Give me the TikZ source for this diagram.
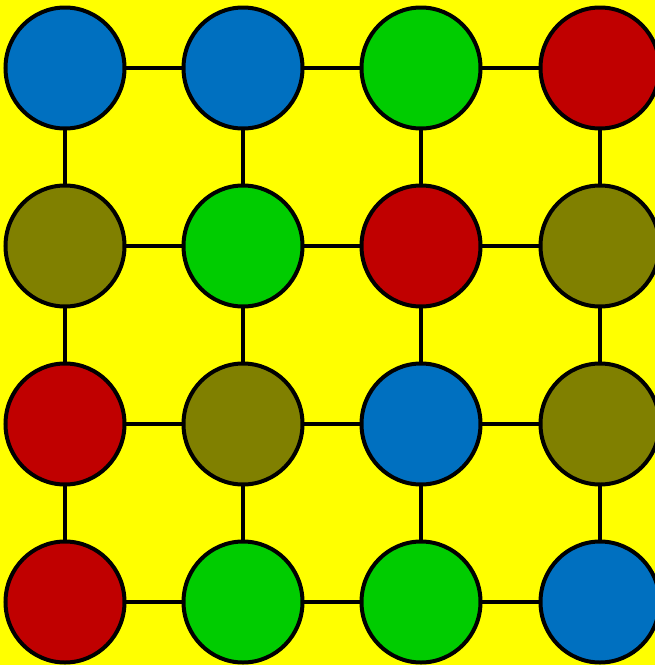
\documentclass[tikz,border=0pt]{standalone}
\usetikzlibrary{shapes.geometric}
\definecolor{bgyellow}{HTML}{FFFF00}
\definecolor{cblue}{HTML}{0070C0}
\definecolor{cgreen}{HTML}{00CC00}
\definecolor{cred}{HTML}{C00000}
\definecolor{colive}{HTML}{808000}
\tikzset{
  dot/.style={ellipse, draw=black, line width=4pt, minimum width=119pt, minimum height=121pt, inner sep=0pt, outer sep=0pt},
  link/.style={draw=black, line width=4pt}
}
\begin{document}
\begin{tikzpicture}[x=1pt,y=-1pt]
\fill[bgyellow] (0,0) rectangle (655,665);
\useasboundingbox (0,0) rectangle (655,665);
% nodes
\node[dot, fill=cblue]  (n00) at (65,68) {};
\node[dot, fill=cblue]  (n01) at (243,68) {};
\node[dot, fill=cgreen] (n02) at (421,68) {};
\node[dot, fill=cred]   (n03) at (600,68) {};
\node[dot, fill=colive] (n10) at (65,246) {};
\node[dot, fill=cgreen] (n11) at (243,246) {};
\node[dot, fill=cred]   (n12) at (421,246) {};
\node[dot, fill=colive] (n13) at (600,246) {};
\node[dot, fill=cred]   (n20) at (65,424) {};
\node[dot, fill=colive] (n21) at (243,424) {};
\node[dot, fill=cblue]  (n22) at (421,424) {};
\node[dot, fill=colive] (n23) at (600,424) {};
\node[dot, fill=cred]   (n30) at (65,602) {};
\node[dot, fill=cgreen] (n31) at (243,602) {};
\node[dot, fill=cgreen] (n32) at (421,602) {};
\node[dot, fill=cblue]  (n33) at (600,602) {};
% connectors
\foreach \r in {0,1,2,3}{
  \draw[link] (n\r0) -- (n\r1);
  \draw[link] (n\r1) -- (n\r2);
  \draw[link] (n\r2) -- (n\r3);
}
\foreach \c in {0,1,2,3}{
  \draw[link] (n0\c) -- (n1\c);
  \draw[link] (n1\c) -- (n2\c);
  \draw[link] (n2\c) -- (n3\c);
}
\end{tikzpicture}
\end{document}
